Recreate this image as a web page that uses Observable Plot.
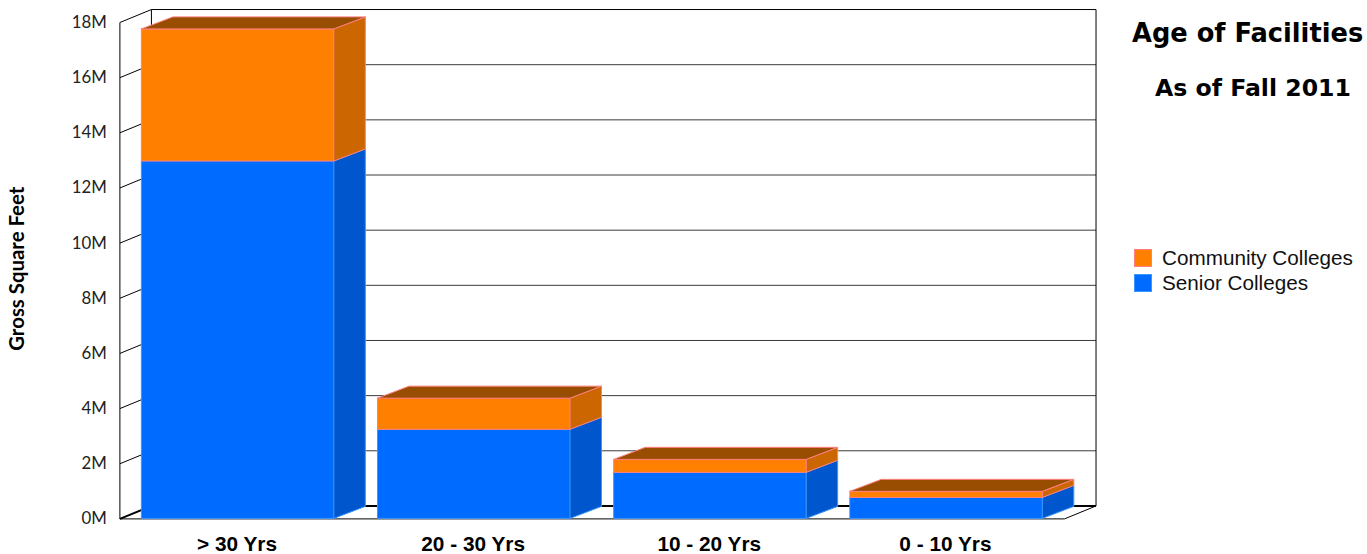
<!DOCTYPE html>
<html>
<head>
<meta charset="utf-8">
<script src="https://cdn.jsdelivr.net/npm/d3@7"></script>
<script src="https://cdn.jsdelivr.net/npm/@observablehq/plot@0.6"></script>
<style>
html,body{margin:0;padding:0;background:#fff;}
#wrap{position:relative;width:1367px;height:554px;overflow:hidden;}
#wrap svg{position:absolute;left:0;top:0;}
.t{position:absolute;white-space:nowrap;color:#000;}
#title{font:bold 25.7px "DejaVu Sans";left:1132px;top:18px;}
#subtitle{font:bold 23.6px "DejaVu Sans";left:1155px;top:74px;}
.sw{position:absolute;left:1134px;width:16px;height:16px;border:1px solid;}
.lg{font:20.7px "Liberation Sans";left:1162px;color:#111;}
</style>
</head>
<body>
<div id="wrap"></div>
<script>
const categories = ["> 30 Yrs", "20 - 30 Yrs", "10 - 20 Yrs", "0 - 10 Yrs"];
const seniorColleges = [12.96e6, 3.23e6, 1.67e6, 0.76e6];
const communityColleges = [4.79e6, 1.13e6, 0.47e6, 0.22e6];
const yTicks = [0, 2e6, 4e6, 6e6, 8e6, 10e6, 12e6, 14e6, 16e6, 18e6];
const seriesNames = ["Community Colleges", "Senior Colleges"];

const colors = {
  senior: {front: "#006bff", side: "#0056cc", edge: "#3b96ff"},
  community: {front: "#ff8000", side: "#cc6600", top: "#994d00", edge: "#ff7f7f"}
};
// Chart units for the oblique depth and bar width
const barWidth = 0.815, depthX = 0.1335, depthY = 0.4356e6, wallDepthY = 0.47e6;
const xMin = -0.5, xMax = 3.5;

const rects = [], sides = [], tops = [];
categories.forEach((c, i) => {
  const l = i - barWidth / 2 + 0.0005, r = l + barWidth;
  const s = seniorColleges[i], t = s + communityColleges[i];
  const side = (id, y0, y1, key) => [
    {id, key, x: r, y1: y0, y2: y1},
    {id, key, x: r + depthX, y1: y0 + depthY, y2: y1 + depthY}
  ];
  rects.push({key: "senior", i, x1: l, x2: r, y1: 0, y2: s});
  rects.push({key: "community", i, x1: l, x2: r, y1: s, y2: t});
  sides.push(side(i + "s", 0, s, "senior"));
  sides.push(side(i + "c", s, t, "community"));
  tops.push([
    {id: i, x: l, y1: t, y2: t},
    {id: i, x: l + depthX, y1: t, y2: t + depthY},
    {id: i, x: r, y1: t, y2: t + depthY},
    {id: i, x: r + depthX, y1: t + depthY, y2: t + depthY}
  ]);
});

const face = (id, rows, fill, stroke) => Plot.area(rows, {
  x1: "x", y1: "y1", y2: "y2", z: "id", fill, stroke, strokeWidth: 1, curve: "linear"
});

const barMarks = categories.flatMap((c, i) => {
  const [rs, rc] = [rects[2 * i], rects[2 * i + 1]];
  return [
    face(i, sides[2 * i], colors.senior.side, colors.senior.edge),
    Plot.rect([rs], {x1: "x1", x2: "x2", y1: "y1", y2: "y2", fill: colors.senior.front, stroke: colors.senior.edge, strokeWidth: 1}),
    face(i, sides[2 * i + 1], colors.community.side, colors.community.edge),
    Plot.rect([rc], {x1: "x1", x2: "x2", y1: "y1", y2: "y2", fill: colors.community.front, stroke: colors.community.edge, strokeWidth: 1}),
    face(i, tops[i], colors.community.top, colors.community.edge)
  ];
});

const backL = xMin + depthX, backR = xMax + depthX;
const link = (rows, o = {}) => Plot.link(rows, {x1: "x1", y1: "y1", x2: "x2", y2: "y2", stroke: "#000", strokeWidth: 1, markerStart: null, ...o});

const chart = Plot.plot({
  width: 1367,
  height: 554,
  marginLeft: 119.4,
  marginRight: 303,
  marginTop: 22,
  marginBottom: 35.6,
  style: {background: "transparent"},
  x: {domain: [xMin, xMax], label: null},
  y: {domain: [0, 18e6], label: null},
  marks: [
    // back wall grid
    link(yTicks.slice(1, -1).map(v => ({x1: backL, x2: backR, y1: v + wallDepthY, y2: v + wallDepthY})), {stroke: "#3c3c3c"}),
    // back wall frame
    link([
      {x1: backL, x2: backR, y1: 18e6 + wallDepthY, y2: 18e6 + wallDepthY},
      {x1: backL, x2: backL, y1: wallDepthY, y2: 18e6 + wallDepthY},
      {x1: backR, x2: backR, y1: wallDepthY, y2: 18e6 + wallDepthY},
      {x1: xMin, x2: xMin, y1: 0, y2: 18e6}
    ]),
    // left wall ticks
    link(yTicks.slice(1).map(v => ({x1: xMin, x2: backL, y1: v, y2: v + wallDepthY}))),
    // floor
    link([
      {x1: xMin, x2: xMax, y1: 0, y2: 0},
      {x1: xMax, x2: backR, y1: 0, y2: wallDepthY}
    ]),
    link([
      {x1: backL, x2: backR, y1: wallDepthY, y2: wallDepthY},
      {x1: xMin, x2: backL, y1: 0, y2: wallDepthY}
    ], {strokeWidth: 2}),
    ...barMarks,
    Plot.axisY({
      ticks: yTicks, tickFormat: d => d / 1e6 + "M", tickSize: 0, tickPadding: 13,
      label: null, anchor: "left", fontSize: 16.8, fontFamily: "Lato", fill: "#222"
    }),
    Plot.axisX({
      ticks: categories.map((c, i) => i), tickFormat: i => categories[i], tickSize: 0, tickPadding: 17, dx: -1,
      label: null, anchor: "bottom", fontSize: 20.8, fontWeight: "bold", fontFamily: "Liberation Sans", fill: "#000"
    }),
    Plot.text(["Gross Square Feet"], {
      frameAnchor: "left", dx: -102, dy: -2, rotate: -90, textAnchor: "middle", fontSize: 20.4, fontWeight: "bold", fontFamily: "Lato", fill: "#000"
    })
  ]
});

const wrap = document.getElementById("wrap");
wrap.appendChild(chart);
const add = (cls, id, text, top) => {
  const d = document.createElement("div");
  d.className = "t " + cls;
  if (id) d.id = id;
  d.textContent = text;
  if (top != null) d.style.top = top + "px";
  wrap.appendChild(d);
};
add("", "title", "Age of Facilities");
add("", "subtitle", "As of Fall 2011");
[[colors.community.front, colors.community.edge, 249], [colors.senior.front, colors.senior.edge, 274]].forEach(([f, e, y], i) => {
  const s = document.createElement("div");
  s.className = "sw";
  s.style.cssText = `top:${y}px;background:${f};border-color:${e}`;
  wrap.appendChild(s);
  add("lg", null, seriesNames[i], y - 3);
});
</script>
</body>
</html>
